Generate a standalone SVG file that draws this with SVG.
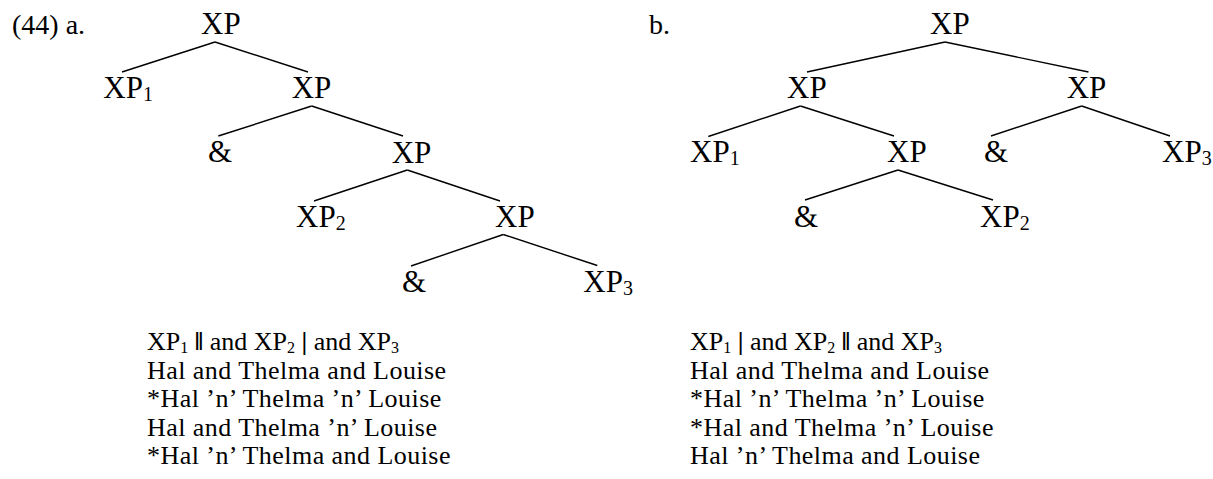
<svg xmlns="http://www.w3.org/2000/svg" width="1213" height="479" viewBox="0 0 1213 479">
  <style>
    .lbl { font-family: "Liberation Serif", "Times New Roman", serif; font-size: 31px; fill: #000; }
    .sub { font-size: 20px; }
    .num { font-family: "Liberation Serif", "Times New Roman", serif; font-size: 28px; fill: #000; }
    .ex { font-family: "Liberation Serif", "Times New Roman", serif; font-size: 26px; fill: #000; letter-spacing: 0.45px; }
    .ex0 { letter-spacing: 0; }
    .exs { font-size: 16px; }
    .bar { font-weight: bold; }
    .edge { stroke: #000; stroke-width: 1.4; fill: none; stroke-linecap: butt; }
  </style>
  <rect width="1213" height="479" fill="#fff"/>

  <!-- example numbers -->
  <text class="num" x="12" y="34">(44) a.</text>
  <text class="num" x="649" y="34">b.</text>

  <!-- tree edges -->
  <g id="connectors">
    <!-- tree a -->
    <line class="edge" x1="215" y1="42" x2="122" y2="72"/>
    <line class="edge" x1="215" y1="42" x2="308" y2="72"/>
    <line class="edge" x1="311.7" y1="106" x2="218.3" y2="136"/>
    <line class="edge" x1="311.7" y1="106" x2="403" y2="136"/>
    <line class="edge" x1="407.3" y1="170" x2="314" y2="201"/>
    <line class="edge" x1="407.3" y1="170" x2="500" y2="201"/>
    <line class="edge" x1="503.3" y1="234.5" x2="411" y2="266"/>
    <line class="edge" x1="503.3" y1="234.5" x2="597.3" y2="265.5"/>
    <!-- tree b -->
    <line class="edge" x1="945" y1="42" x2="807" y2="72"/>
    <line class="edge" x1="945" y1="42" x2="1088.5" y2="72"/>
    <line class="edge" x1="800.5" y1="106" x2="708.3" y2="136.5"/>
    <line class="edge" x1="800.5" y1="106" x2="894" y2="136"/>
    <line class="edge" x1="1081.7" y1="106" x2="991" y2="136"/>
    <line class="edge" x1="1081.7" y1="106" x2="1170" y2="136"/>
    <line class="edge" x1="898" y1="170" x2="805" y2="200"/>
    <line class="edge" x1="898" y1="170" x2="993" y2="200"/>
  </g>

  <!-- tree a nodes -->
  <g id="a-root"><text class="lbl" x="201" y="34">XP</text></g>
  <g id="a-xp1"><text class="lbl" x="103.3" y="98">XP<tspan class="sub" dy="3">1</tspan></text></g>
  <g id="a-xp-2"><text class="lbl" x="291.7" y="98">XP</text></g>
  <g id="a-amp1"><text class="lbl" x="208" y="162">&amp;</text></g>
  <g id="a-xp-3"><text class="lbl" x="391.7" y="162.5">XP</text></g>
  <g id="a-xp2"><text class="lbl" x="296" y="227">XP<tspan class="sub" dy="3">2</tspan></text></g>
  <g id="a-xp-4"><text class="lbl" x="495" y="227">XP</text></g>
  <g id="a-amp2"><text class="lbl" x="402" y="292">&amp;</text></g>
  <g id="a-xp3"><text class="lbl" x="583.3" y="292">XP<tspan class="sub" dy="3">3</tspan></text></g>

  <!-- tree b nodes -->
  <g id="b-root"><text class="lbl" x="930" y="34">XP</text></g>
  <g id="b-xp-l"><text class="lbl" x="787" y="98">XP</text></g>
  <g id="b-xp-r"><text class="lbl" x="1066.7" y="98">XP</text></g>
  <g id="b-xp1"><text class="lbl" x="690" y="162">XP<tspan class="sub" dy="3">1</tspan></text></g>
  <g id="b-xp-m"><text class="lbl" x="887" y="162">XP</text></g>
  <g id="b-amp1"><text class="lbl" x="984" y="162">&amp;</text></g>
  <g id="b-xp3"><text class="lbl" x="1162" y="162">XP<tspan class="sub" dy="3">3</tspan></text></g>
  <g id="b-amp2"><text class="lbl" x="794" y="227">&amp;</text></g>
  <g id="b-xp2"><text class="lbl" x="980" y="227">XP<tspan class="sub" dy="3">2</tspan></text></g>

  <!-- example sentences, column a -->
  <g id="a-examples">
    <text class="ex ex0" x="147" y="350">XP<tspan class="exs" dy="3">1</tspan><tspan dy="-3"> </tspan><tspan class="bar">‖</tspan> and XP<tspan class="exs" dy="3">2</tspan><tspan dy="-3"> </tspan><tspan class="bar">|</tspan> and XP<tspan class="exs" dy="3">3</tspan></text>
    <text class="ex" x="147" y="378.5">Hal and Thelma and Louise</text>
    <text class="ex" x="147" y="407">*Hal ’n’ Thelma ’n’ Louise</text>
    <text class="ex" x="147" y="435.5">Hal and Thelma ’n’ Louise</text>
    <text class="ex" x="147" y="464">*Hal ’n’ Thelma and Louise</text>
  </g>

  <!-- example sentences, column b -->
  <g id="b-examples">
    <text class="ex ex0" x="690" y="350">XP<tspan class="exs" dy="3">1</tspan><tspan dy="-3"> </tspan><tspan class="bar">|</tspan> and XP<tspan class="exs" dy="3">2</tspan><tspan dy="-3"> </tspan><tspan class="bar">‖</tspan> and XP<tspan class="exs" dy="3">3</tspan></text>
    <text class="ex" x="690" y="378.5">Hal and Thelma and Louise</text>
    <text class="ex" x="690" y="407">*Hal ’n’ Thelma ’n’ Louise</text>
    <text class="ex" x="690" y="435.5">*Hal and Thelma ’n’ Louise</text>
    <text class="ex" x="690" y="464">Hal ’n’ Thelma and Louise</text>
  </g>
</svg>
